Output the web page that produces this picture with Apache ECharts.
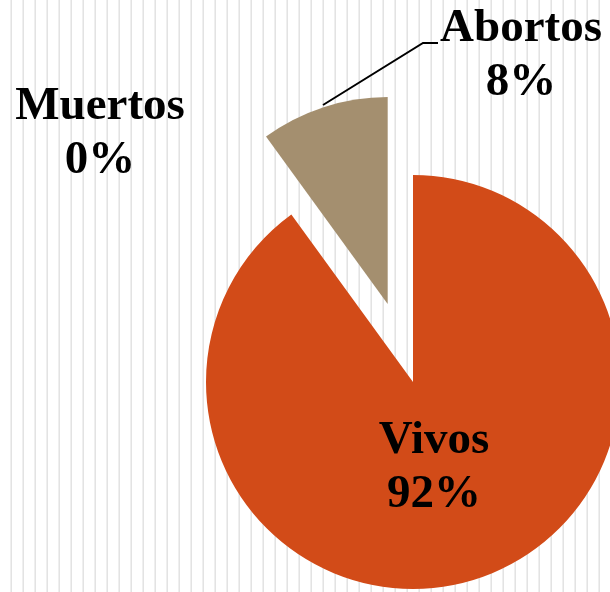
<!DOCTYPE html>
<html lang="es">
<head>
    <meta charset="UTF-8">
    <title>Vivos / Abortos / Muertos</title>
    <script src="https://cdn.jsdelivr.net/npm/echarts@6/dist/echarts.min.js"></script>
    <style>
        html, body { margin: 0; padding: 0; background: #fff; }
        #main { width: 610px; height: 592px; }
    </style>
</head>
<body>
    <div id="main"></div>
    <script>
        // datos
        var categories = ['Vivos', 'Abortos', 'Muertos'];
        var shares = [90, 10, 0];            // tamaño de las porciones tal como se ven
        var pctLabels = ['92%', '8%', '0%']; // textos impresos en el grafico
        var colors = ['#D24B18', '#A48F6F', '#7F7F7F'];

        var chart = echarts.init(document.getElementById('main'));

        // fondo de rayas verticales (patron)
        var pat = document.createElement('canvas');
        pat.width = 12; pat.height = 12;
        var ctx = pat.getContext('2d');
        ctx.fillStyle = '#ffffff';
        ctx.fillRect(0, 0, 12, 12);
        ctx.fillStyle = '#e3e3e3';
        ctx.fillRect(11, 0, 1, 12);
        ctx.fillStyle = '#efefef';
        ctx.fillRect(10, 0, 1, 12);

        // posiciones de etiquetas (centro del bloque de texto)
        var labelPos = [[434, 468], [521, 56], [100, 134]];

        var pieData = categories.map(function (name, i) {
            return {
                name: name,
                value: shares[i],
                selected: i === 1,
                itemStyle: { color: colors[i] }
            };
        });

        // misma serie sin desplazar, solo para las etiquetas
        var labelData = categories.map(function (name, i) {
            return {
                name: name,
                value: shares[i],
                labelLine: { show: i === 1 }
            };
        });

        var common = {
            type: 'pie',
            center: [413, 382],
            radius: 207,
            startAngle: 90,
            clockwise: true,
            avoidLabelOverlap: false,
            minAngle: 0,
            stillShowZeroSum: true,
            emphasis: { disabled: true }
        };

        var option = {
            animation: false,
            graphic: [{
                type: 'rect',
                z: -10,
                silent: true,
                shape: { x: 0, y: 0, width: 610, height: 592 },
                style: { fill: { image: pat, repeat: 'repeat' } }
            }],
            series: [
                Object.assign({}, common, {
                    selectedMode: 'single',
                    selectedOffset: 82,
                    itemStyle: { borderWidth: 0 },
                    label: { show: false },
                    labelLine: { show: false },
                    data: pieData
                }),
                Object.assign({}, common, {
                    silent: true,
                    z: 3,
                    itemStyle: { color: 'rgba(0,0,0,0)', borderWidth: 0 },
                    label: {
                        show: true,
                        position: 'outside',
                        color: '#000',
                        fontFamily: '"Liberation Serif", serif',
                        fontWeight: 'bold',
                        fontSize: 47,
                        lineHeight: 54,
                        align: 'center',
                        formatter: function (p) {
                            return p.name + '\n' + pctLabels[p.dataIndex];
                        }
                    },
                    labelLine: {
                        lineStyle: { color: '#000', width: 2 }
                    },
                    labelLayout: function (p) {
                        var pos = labelPos[p.dataIndex];
                        var res = {
                            x: pos[0],
                            y: pos[1],
                            align: 'center',
                            verticalAlign: 'middle'
                        };
                        if (p.dataIndex === 1) {
                            res.labelLinePoints = [[323, 105], [423, 43], [438, 43]];
                        }
                        return res;
                    },
                    data: labelData
                })
            ]
        };

        chart.setOption(option);
    </script>
</body>
</html>
